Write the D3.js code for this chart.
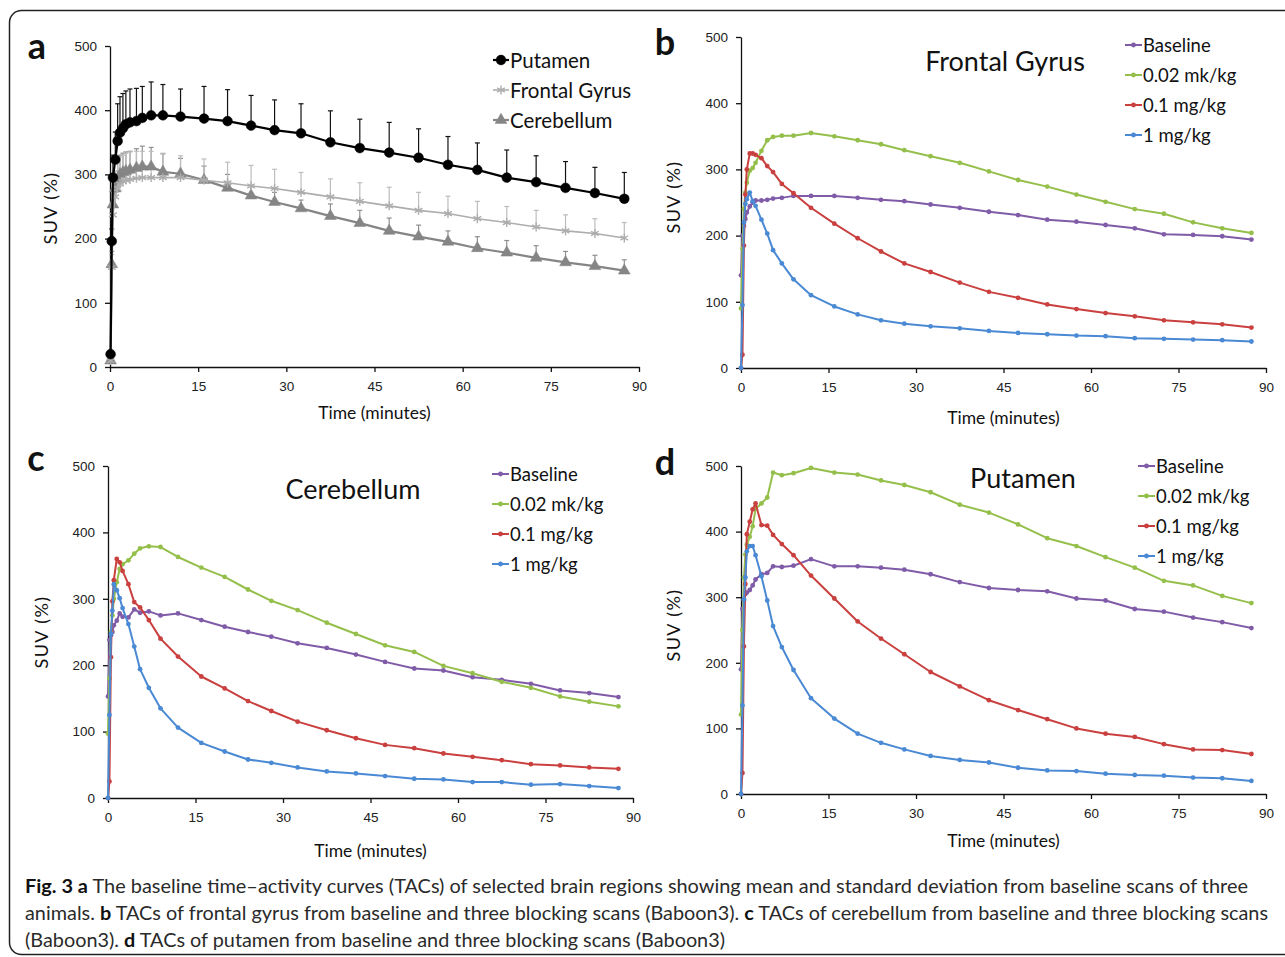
<!DOCTYPE html>
<html>
<head>
<meta charset="utf-8">
<script src="https://cdn.jsdelivr.net/npm/d3@7"></script>
<style>
  body { margin: 0; background: #fff; }
  svg { display: block; font-family: Lato, 'Open Sans', sans-serif; }
</style>
</head>
<body>
<div id="result"></div>
<script>
// frame mid-times (minutes)
const timeA = [0.1, 0.3, 0.5, 0.9, 1.3, 1.7, 2.2, 2.7, 3.4, 4.5, 5.5, 7, 9, 12, 16, 20, 24, 28,
  32.5, 37.5, 42.5, 47.5, 52.5, 57.5, 62.5, 67.5, 72.5, 77.5, 82.5, 87.5];
const timeScan = [0, 0.25, 0.5, 0.75, 1, 1.5, 2, 2.5, 3.5, 4.5, 5.5, 7, 9, 12, 16, 20, 24, 28,
  32.5, 37.5, 42.5, 47.5, 52.5, 57.5, 62.5, 67.5, 72.5, 77.5, 82.5, 87.5];

const xTicks = [0, 15, 30, 45, 60, 75, 90];
const yTicks = [0, 100, 200, 300, 400, 500];

// panel a: baseline mean and SD of three animals
const regionNames = ['Putamen', 'Frontal Gyrus', 'Cerebellum'];
const putamenMean = [20, 196, 295, 323, 352, 365, 372, 378, 381, 383, 388, 392, 392, 390, 387, 383, 376, 369,
  364, 350, 341, 334, 326, 315, 307, 295, 288, 279, 271, 262];
const putamenSD = [5, 19, 35, 43, 58, 56, 54, 52, 52, 51, 49, 52, 48, 43, 50, 49, 47, 47,
  46, 49, 45, 47, 45, 44, 42, 43, 41, 41, 40, 41];
const frontalMean = [10, 155, 237, 265, 278, 285, 289, 291, 292, 294, 295, 295, 295, 295, 291, 287, 282, 278,
  272, 265, 258, 251, 244, 239, 231, 225, 218, 212, 208, 201];
const frontalSD = [5, 20, 38, 40, 42, 42, 41, 42, 43, 42, 41, 41, 38, 34, 33, 32, 32, 30,
  31, 28, 29, 29, 28, 27, 27, 25, 26, 25, 23, 24];
const cerebMean = [10, 160, 253, 278, 292, 300, 303, 305, 307, 310, 312, 312, 304, 301, 291, 279, 267, 257,
  247, 235, 224, 212, 203, 195, 185, 178, 170, 163, 157, 150];
const cerebSD = [5, 20, 37, 27, 33, 30, 30, 30, 29, 30, 32, 30, 28, 24, 22, 21, 16, 15,
  13, 19, 20, 20, 18, 17, 18, 19, 19, 17, 17, 17];

// panels b-d: baseline and three blocking doses (Baboon3)
const doseNames = ['Baseline', '0.02 mk/kg', '0.1 mg/kg', '1 mg/kg'];
const fgBaseline = [140, 200, 215, 225, 235, 244, 250, 253, 253, 254, 256, 257, 260, 260, 260, 257, 254, 252,
  247, 242, 236, 231, 224, 221, 216, 211, 202, 201, 199, 194];
const fgLow = [90, 180, 240, 265, 280, 298, 302, 310, 328, 344, 349, 351, 351, 355, 350, 344, 338, 329,
  320, 310, 297, 284, 274, 262, 251, 240, 233, 220, 211, 204];
const fgMid = [0, 20, 185, 262, 300, 324, 324, 322, 317, 305, 296, 278, 264, 242, 218, 196, 176, 158,
  145, 129, 115, 106, 96, 89, 83, 78, 72, 69, 66, 61];
const fgHigh = [0, 95, 220, 248, 255, 265, 252, 245, 224, 203, 178, 158, 134, 110, 93, 81, 72, 67,
  63, 60, 56, 53, 51, 49, 48, 45, 44, 43, 42, 40];

const cbBaseline = [153, 238, 245, 250, 260, 267, 278, 273, 272, 284, 279, 281, 275, 278, 268, 258, 250, 243,
  233, 226, 216, 205, 195, 192, 182, 178, 172, 162, 158, 152];
const cbLow = [97, 180, 250, 275, 300, 325, 345, 352, 358, 368, 376, 379, 378, 363, 347, 333, 314, 297,
  283, 264, 247, 230, 220, 199, 188, 175, 166, 153, 145, 138];
const cbMid = [0, 25, 212, 296, 328, 360, 355, 342, 322, 295, 287, 268, 240, 213, 183, 165, 146, 131,
  115, 102, 90, 80, 75, 67, 62, 57, 51, 49, 46, 44];
const cbHigh = [0, 125, 247, 282, 322, 313, 301, 286, 262, 228, 194, 166, 135, 106, 83, 70, 58, 53,
  46, 40, 37, 33, 29, 28, 24, 24, 20, 21, 18, 15];

const ptBaseline = [190, 282, 295, 305, 307, 311, 318, 327, 335, 337, 347, 346, 348, 358, 347, 347, 345, 342,
  335, 323, 314, 311, 309, 298, 295, 282, 278, 269, 262, 253];
const ptLow = [121, 250, 330, 365, 380, 392, 408, 435, 443, 452, 490, 486, 489, 497, 490, 487, 478, 471,
  460, 441, 429, 411, 390, 378, 361, 345, 325, 318, 302, 291];
const ptMid = [0, 32, 225, 320, 396, 415, 434, 443, 410, 409, 395, 381, 364, 333, 298, 263, 237, 213,
  186, 164, 143, 128, 114, 100, 92, 87, 76, 68, 67, 61];
const ptHigh = [0, 135, 297, 330, 370, 378, 378, 364, 332, 295, 256, 224, 189, 146, 115, 92, 78, 68,
  58, 52, 48, 40, 36, 35, 31, 29, 28, 25, 24, 20];

const captionLines = [
  [['Fig. 3 a', true], [' The baseline time–activity curves (TACs) of selected brain regions showing mean and standard deviation from baseline scans of three', false]],
  [['animals. ', false], ['b', true], [' TACs of frontal gyrus from baseline and three blocking scans (Baboon3). ', false], ['c', true], [' TACs of cerebellum from baseline and three blocking scans', false]],
  [['(Baboon3). ', false], ['d', true], [' TACs of putamen from baseline and three blocking scans (Baboon3)', false]]
];

const doseColors = ['#7f5ba8', '#95bf4b', '#c9403f', '#4a89d3'];

const svg = d3.select('#result').append('svg')
  .attr('width', 1285)
  .attr('height', 957);

// rounded figure frame
svg.append('rect')
  .attr('x', 9.5).attr('y', 10.5)
  .attr('width', 1300).attr('height', 944)
  .attr('rx', 12)
  .attr('fill', 'none')
  .attr('stroke', '#222')
  .attr('stroke-width', 1.5);

// builds axes for one panel and returns the scales
function makePanel(box, letter, letterPos, titlePos) {
  const g = svg.append('g');
  const xScale = d3.scaleLinear().domain([0, 90]).range([box.left, box.right]);
  const yScale = d3.scaleLinear().domain([0, 500]).range([box.bottom, box.top]);

  g.append('g')
    .attr('transform', `translate(0,${box.bottom})`)
    .call(d3.axisBottom(xScale).tickValues(xTicks).tickSize(5).tickSizeOuter(0).tickPadding(9))
    .call(ax => ax.selectAll('text').style('font-size', '13.5px').attr('fill', '#222'))
    .call(ax => ax.selectAll('line, path').attr('stroke', '#111').attr('stroke-width', 1.3));

  g.append('g')
    .attr('transform', `translate(${box.left},0)`)
    .call(d3.axisLeft(yScale).tickValues(yTicks).tickSize(5).tickSizeOuter(0).tickPadding(8))
    .call(ax => ax.selectAll('text').style('font-size', '13.5px').attr('fill', '#222'))
    .call(ax => ax.selectAll('line, path').attr('stroke', '#111').attr('stroke-width', 1.3));

  g.append('text')
    .attr('x', (box.left + box.right) / 2 + titlePos.dx)
    .attr('y', box.bottom + titlePos.timeY)
    .attr('text-anchor', 'middle')
    .attr('dominant-baseline', 'central')
    .style('font-size', '17.5px')
    .attr('fill', '#111')
    .text('Time (minutes)');

  g.append('text')
    .attr('transform', `translate(${titlePos.suvX},${titlePos.suvY}) rotate(-90)`)
    .attr('text-anchor', 'middle')
    .attr('dominant-baseline', 'central')
    .style('font-size', '18px')
    .style('letter-spacing', '1.4px')
    .attr('fill', '#111')
    .text('SUV (%)');

  g.append('text')
    .attr('x', letterPos[0]).attr('y', letterPos[1])
    .attr('text-anchor', 'middle')
    .attr('dominant-baseline', 'central')
    .style('font-size', '36px')
    .style('font-weight', 'bold')
    .attr('fill', '#111')
    .text(letter);

  return { g, xScale, yScale };
}

// PANEL A
const pa = makePanel({ left: 110, right: 639, bottom: 367, top: 46 }, 'a', [37, 45],
  { dx: 0, timeY: 45, suvX: 50, suvY: 208 });

const regionSeries = [
  { name: regionNames[0], mean: putamenMean, sd: putamenSD, color: '#000', bar: '#111', width: 2.2, symbol: d3.symbolCircle, size: 75, fill: true },
  { name: regionNames[1], mean: frontalMean, sd: frontalSD, color: '#adadad', bar: '#bdbdbd', width: 1.6, symbol: d3.symbolAsterisk, size: 55, fill: false },
  { name: regionNames[2], mean: cerebMean, sd: cerebSD, color: '#858585', bar: '#8f8f8f', width: 2.2, symbol: d3.symbolTriangle, size: 60, fill: true }
];

const lineA = d3.line()
  .x(d => pa.xScale(d[0]))
  .y(d => pa.yScale(d[1]));

// error bars first, then lines, then markers
for (const s of regionSeries.slice().reverse()) {
  const pts = d3.zip(timeA, s.mean, s.sd);
  const bars = pa.g.append('g');
  bars.selectAll('line.v')
    .data(pts)
    .enter().append('line')
      .attr('x1', d => pa.xScale(d[0])).attr('x2', d => pa.xScale(d[0]))
      .attr('y1', d => pa.yScale(d[1])).attr('y2', d => pa.yScale(d[1] + d[2]))
      .attr('stroke', s.bar).attr('stroke-width', 1.2);
  bars.selectAll('line.c')
    .data(pts)
    .enter().append('line')
      .attr('x1', d => pa.xScale(d[0]) - 2.5).attr('x2', d => pa.xScale(d[0]) + 2.5)
      .attr('y1', d => pa.yScale(d[1] + d[2])).attr('y2', d => pa.yScale(d[1] + d[2]))
      .attr('stroke', s.bar).attr('stroke-width', 1.2);
}

for (const s of regionSeries.slice().reverse()) {
  const pts = d3.zip(timeA, s.mean);
  pa.g.append('path')
    .datum(pts)
    .attr('fill', 'none')
    .attr('stroke', s.color)
    .attr('stroke-width', s.width)
    .attr('d', lineA);
  pa.g.append('g').selectAll('path')
    .data(pts)
    .enter().append('path')
      .attr('transform', d => `translate(${pa.xScale(d[0])},${pa.yScale(d[1])})`)
      .attr('d', d3.symbol(s.symbol, s.size))
      .attr('fill', s.fill ? s.color : 'none')
      .attr('stroke', s.color)
      .attr('stroke-width', s.fill ? 0.5 : 1.4);
}

// legend a
regionSeries.forEach((s, i) => {
  const y = 60 + i * 30;
  const lg = pa.g.append('g');
  lg.append('line')
    .attr('x1', 493).attr('x2', 509).attr('y1', y).attr('y2', y)
    .attr('stroke', s.color).attr('stroke-width', s.width);
  lg.append('path')
    .attr('transform', `translate(501,${y})`)
    .attr('d', d3.symbol(s.symbol, s.size))
    .attr('fill', s.fill ? s.color : 'none')
    .attr('stroke', s.color)
    .attr('stroke-width', s.fill ? 0.5 : 1.4);
  lg.append('text')
    .attr('x', 510).attr('y', y)
    .attr('dominant-baseline', 'central')
    .style('font-size', '20.5px')
    .attr('fill', '#111')
    .text(s.name);
});

// PANELS B-D
function dosePanel(box, letter, letterPos, titlePos, title, titleXY, legendXY, values) {
  const p = makePanel(box, letter, letterPos, titlePos);
  const line = d3.line()
    .x(d => p.xScale(d[0]))
    .y(d => p.yScale(d[1]));

  values.forEach((vals, i) => {
    const pts = d3.zip(timeScan, vals);
    p.g.append('path')
      .datum(pts)
      .attr('fill', 'none')
      .attr('stroke', doseColors[i])
      .attr('stroke-width', 2)
      .attr('stroke-linejoin', 'round')
      .attr('d', line);
    p.g.append('g').selectAll('circle')
      .data(pts)
      .enter().append('circle')
        .attr('cx', d => p.xScale(d[0]))
        .attr('cy', d => p.yScale(d[1]))
        .attr('r', 2.4)
        .attr('fill', doseColors[i]);
  });

  p.g.append('text')
    .attr('x', titleXY[0]).attr('y', titleXY[1])
    .attr('text-anchor', 'middle')
    .attr('dominant-baseline', 'central')
    .style('font-size', '27px')
    .attr('fill', '#111')
    .text(title);

  doseNames.forEach((name, i) => {
    const y = legendXY[1] + i * 30;
    const x = legendXY[0];
    p.g.append('line')
      .attr('x1', x).attr('x2', x + 17).attr('y1', y).attr('y2', y)
      .attr('stroke', doseColors[i]).attr('stroke-width', 2);
    p.g.append('circle')
      .attr('cx', x + 8.5).attr('cy', y).attr('r', 2.4)
      .attr('fill', doseColors[i]);
    p.g.append('text')
      .attr('x', x + 18).attr('y', y)
      .attr('dominant-baseline', 'central')
      .style('font-size', '18.5px')
      .attr('fill', '#111')
      .text(name);
  });
}

dosePanel({ left: 741, right: 1266, bottom: 368, top: 37 }, 'b', [665, 41],
  { dx: 0, timeY: 49, suvX: 673, suvY: 197 },
  'Frontal Gyrus', [1005, 60], [1125, 45], [fgBaseline, fgLow, fgMid, fgHigh]);

dosePanel({ left: 108, right: 633, bottom: 798, top: 466 }, 'c', [36, 457],
  { dx: 0, timeY: 52, suvX: 41, suvY: 632 },
  'Cerebellum', [353, 488], [492, 474], [cbBaseline, cbLow, cbMid, cbHigh]);

dosePanel({ left: 741, right: 1266, bottom: 794, top: 466 }, 'd', [665, 461],
  { dx: 0, timeY: 46, suvX: 673, suvY: 625 },
  'Putamen', [1023, 477], [1138, 466], [ptBaseline, ptLow, ptMid, ptHigh]);

// caption
const captionLen = [1223, 1243, 700];
captionLines.forEach((parts, i) => {
  const t = svg.append('text')
    .attr('x', 25)
    .attr('y', 885 + i * 27)
    .attr('dominant-baseline', 'central')
    .attr('textLength', captionLen[i])
    .attr('lengthAdjust', 'spacingAndGlyphs')
    .style('font-size', '19px')
    .attr('fill', '#2a2a2a');
  parts.forEach(([txt, bold]) => {
    t.append('tspan')
      .style('font-weight', bold ? 'bold' : 'normal')
      .attr('fill', bold ? '#111' : '#2a2a2a')
      .text(txt);
  });
});
</script>
</body>
</html>
